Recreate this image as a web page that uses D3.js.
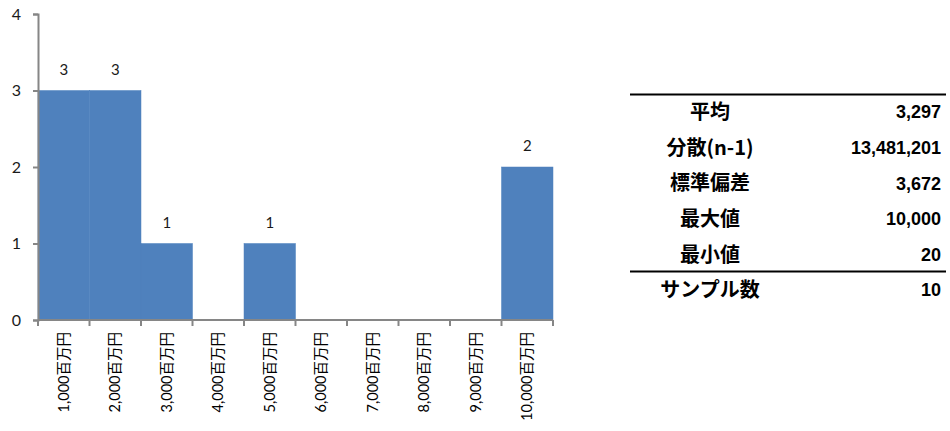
<!DOCTYPE html>
<html>
<head>
<meta charset="utf-8">
<script src="https://cdn.jsdelivr.net/npm/d3@7"></script>
<style>
  body { margin: 0; background: #fff; }
  svg { display: block; }
</style>
</head>
<body>
<script>
// histogram bins and counts
const categories = ['1,000百万円', '2,000百万円', '3,000百万円', '4,000百万円', '5,000百万円',
                    '6,000百万円', '7,000百万円', '8,000百万円', '9,000百万円', '10,000百万円'];
const counts = [3, 3, 1, 0, 1, 0, 0, 0, 0, 2];
const yTicks = [0, 1, 2, 3, 4];

// summary table
const statLabels = ['平均', '分散(n-1)', '標準偏差', '最大値', '最小値', 'サンプル数'];
const statValues = ['3,297', '13,481,201', '3,672', '10,000', '20', '10'];

var width = 950, height = 431;
var fontLat = 'Lato, "Noto Sans CJK JP", sans-serif';
var fontJp = '"Noto Sans CJK JP", sans-serif';
var fontNum = '"Liberation Sans", Arial, sans-serif';
var axisColor = '#868686';

var svg = d3.select('body').append('svg')
    .attr('width', width)
    .attr('height', height);

var data = categories.map((c, i) => ({ cat: c, n: counts[i] }));

var x = d3.scaleBand().domain(categories).range([38, 553]).padding(0);
var y = d3.scaleLinear().domain([0, 4]).range([320, 14]);

// bars
svg.selectAll('.bar')
    .data(data.filter(d => d.n > 0))
    .enter()
    .append('rect')
    .attr('class', 'bar')
    .attr('x', d => x(d.cat))
    .attr('y', d => y(d.n))
    .attr('width', x.bandwidth())
    .attr('height', d => y(0) - y(d.n))
    .attr('fill', '#4F81BD')
    .attr('stroke', '#4F81BD')
    .attr('stroke-width', 0.5);

// value labels above bars
svg.selectAll('.lbl')
    .data(data.filter(d => d.n > 0))
    .enter()
    .append('text')
    .attr('class', 'lbl')
    .attr('x', d => x(d.cat) + x.bandwidth() / 2)
    .attr('y', d => y(d.n) - 16)
    .attr('text-anchor', 'middle')
    .style('font-family', fontLat)
    .style('font-size', '15px')
    .style('fill', '#1a1a1a')
    .text(d => d.n);

// y axis
var yAxis = svg.append('g')
    .attr('transform', 'translate(38,0)')
    .call(d3.axisLeft(y).tickValues(yTicks).tickSize(5).tickPadding(12).tickFormat(d3.format('d')));
yAxis.select('.domain').attr('stroke', axisColor).attr('stroke-width', 2);
yAxis.selectAll('.tick line').attr('stroke', axisColor).attr('stroke-width', 2);
yAxis.selectAll('.tick text')
    .style('font-family', fontLat)
    .style('font-size', '16px')
    .style('fill', '#1a1a1a');

// x axis: ticks on bin edges
var edges = categories.map(c => x(c)).concat([x.range()[1]]);
var xg = svg.append('g');
xg.append('line')
    .attr('x1', 38).attr('x2', 553)
    .attr('y1', y(0)).attr('y2', y(0))
    .attr('stroke', axisColor).attr('stroke-width', 2);
xg.selectAll('.xt')
    .data(edges)
    .enter()
    .append('line')
    .attr('x1', d => d).attr('x2', d => d)
    .attr('y1', y(0)).attr('y2', y(0) + 6)
    .attr('stroke', axisColor).attr('stroke-width', 2);

xg.selectAll('.xl')
    .data(categories)
    .enter()
    .append('text')
    .attr('transform', d => `translate(${x(d) + x.bandwidth() / 2 + 5},${y(0) + 12}) rotate(-90)`)
    .attr('text-anchor', 'end')
    .style('font-family', fontLat)
    .style('font-size', '14.5px')
    .style('fill', '#000')
    .text(d => d);

// summary table
var rowY = d3.scalePoint().domain(statLabels).range([112, 290]);
var tbl = svg.append('g');
tbl.append('line')
    .attr('x1', 630).attr('x2', 946)
    .attr('y1', 94.5).attr('y2', 94.5)
    .attr('stroke', '#000').attr('stroke-width', 2);
tbl.append('line')
    .attr('x1', 630).attr('x2', 946)
    .attr('y1', 271.5).attr('y2', 271.5)
    .attr('stroke', '#000').attr('stroke-width', 2);

tbl.selectAll('.sl')
    .data(statLabels)
    .enter()
    .append('text')
    .attr('x', 710)
    .attr('y', d => rowY(d))
    .attr('dy', '0.36em')
    .attr('text-anchor', 'middle')
    .style('font-family', fontJp)
    .style('font-weight', 'bold')
    .style('font-size', '20px')
    .style('fill', '#000')
    .text(d => d);

tbl.selectAll('.sv')
    .data(statValues)
    .enter()
    .append('text')
    .attr('x', 941)
    .attr('y', (d, i) => rowY(statLabels[i]))
    .attr('dy', '0.36em')
    .attr('text-anchor', 'end')
    .style('font-family', fontNum)
    .style('font-weight', 'bold')
    .style('font-size', '18px')
    .style('fill', '#000')
    .text(d => d);
</script>
</body>
</html>
